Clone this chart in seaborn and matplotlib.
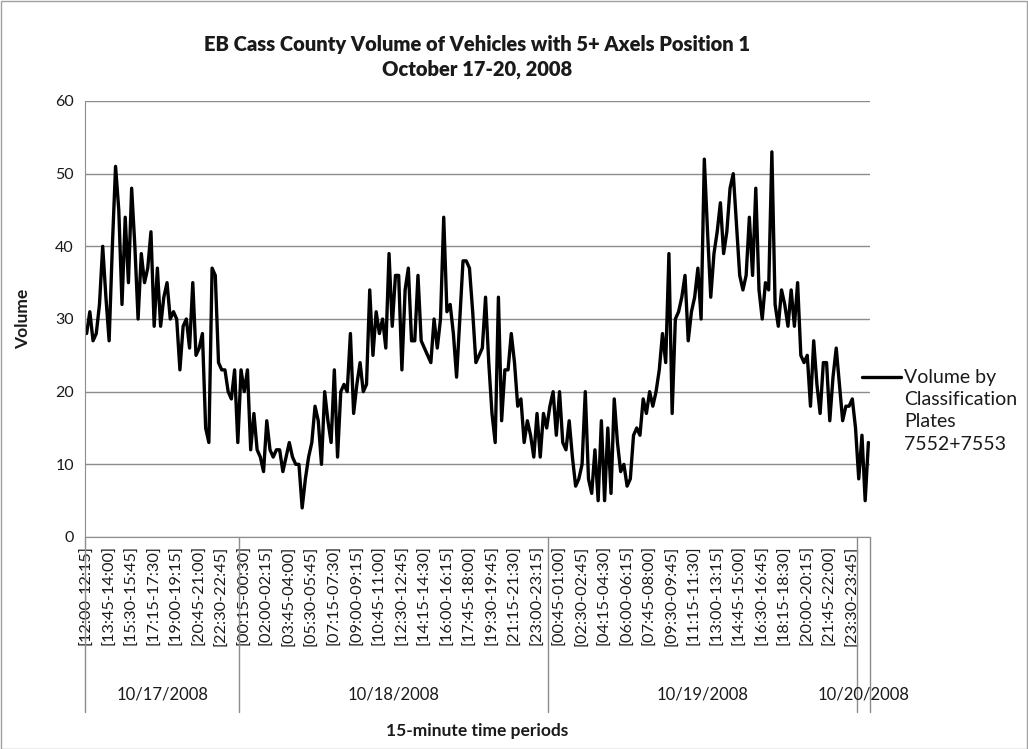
import numpy as np
import pandas as pd
import matplotlib
matplotlib.use("Agg")
import matplotlib.pyplot as plt
from matplotlib.lines import Line2D
from matplotlib.patches import Rectangle
import seaborn as sns

# 15-minute volumes, 10/17 12:00 through 10/20 00:45
vol_1017 = [28, 31, 27, 28, 32, 40, 33, 27, 40, 51,
            45, 32, 44, 35, 48, 40, 30, 39, 35, 37,
            42, 29, 37, 29, 33, 35, 30, 31, 30, 23,
            29, 30, 26, 35, 25, 26, 28, 15, 13, 37,
            36, 24, 23, 23, 20, 19, 23, 13]
vol_1018 = [23, 20, 23, 12, 17, 12, 11, 9, 16, 12,
            11, 12, 12, 9, 11, 13, 11, 10, 10, 4,
            8, 11, 13, 18, 16, 10, 20, 16, 13, 23,
            11, 20, 21, 20, 28, 17, 21, 24, 20, 21,
            34, 25, 31, 28, 30, 26, 39, 29, 36, 36,
            23, 34, 37, 27, 27, 36, 27, 26, 25, 24,
            30, 26, 30, 44, 31, 32, 28, 22, 30, 38,
            38, 37, 31, 24, 25, 26, 33, 24, 17, 13,
            33, 16, 23, 23, 28, 24, 18, 19, 13, 16,
            14, 11, 17, 11, 17, 15]
vol_1019 = [18, 20, 14, 20, 13, 12, 16, 11, 7, 8,
            10, 20, 8, 6, 12, 5, 16, 5, 15, 6,
            19, 13, 9, 10, 7, 8, 14, 15, 14, 19,
            17, 20, 18, 20, 23, 28, 24, 39, 17, 30,
            31, 33, 36, 27, 31, 33, 37, 30, 52, 42,
            33, 39, 42, 46, 39, 42, 48, 50, 43, 36,
            34, 36, 44, 36, 48, 34, 30, 35, 34, 53,
            32, 29, 34, 32, 29, 34, 29, 35, 25, 24,
            25, 18, 27, 21, 17, 24, 24, 16, 22, 26,
            21, 16, 18, 18, 19, 15]
vol_1020 = [8, 14, 5, 13]

dates = ["10/17/2008", "10/18/2008", "10/19/2008", "10/20/2008"]
day_counts = [len(vol_1017), len(vol_1018), len(vol_1019), len(vol_1020)]
volume = vol_1017 + vol_1018 + vol_1019 + vol_1020

starts = pd.date_range("2008-10-17 12:00", periods=len(volume), freq="15min")
periods = [f"[{s:%H:%M}-{s + pd.Timedelta(minutes=15):%H:%M}]" for s in starts]

df = pd.DataFrame({"pos": np.arange(len(volume)), "volume": volume, "period": periods})

sns.set_style("white")
plt.rcParams["font.family"] = ["Lato", "DejaVu Sans"]
txt = "#1a1a1a"

W, H = 1028, 749
fig = plt.figure(figsize=(W / 100, H / 100), dpi=100)
L, R, T, B = 85, 870, 101, 537
ax = fig.add_axes([L / W, 1 - B / H, (R - L) / W, (B - T) / H])

sns.lineplot(data=df, x="pos", y="volume", color="black", linewidth=2.4, ax=ax)

ax.set_xlim(-0.5, len(volume) - 0.5)
ax.set_ylim(0, 60)
ax.set_yticks(range(0, 61, 10))
ax.yaxis.grid(True, color="#8c8c8c", linewidth=1)
ax.tick_params(axis="y", length=4, color="#8c8c8c", labelsize=11.5, labelcolor=txt, pad=4)
for s in ["top", "right"]:
    ax.spines[s].set_visible(False)
for s in ["left", "bottom"]:
    ax.spines[s].set_color("#8c8c8c")

ax.set_xticks(df["pos"][::7])
ax.set_xticklabels(df["period"][::7], rotation=90, fontsize=11.8, color=txt, va="top")
ax.tick_params(axis="x", length=0, pad=6)
ax.set_xlabel("")
ax.set_ylabel("Volume", fontsize=12.5, fontweight="bold", color=txt)
ax.yaxis.set_label_coords(-(L - 31) / (R - L), 0.5)

# day grouping under the category labels
bounds = np.concatenate([[0], np.cumsum(day_counts)]) - 0.5
y_line = -(712 - B) / (B - T)
y_date = -(695 - B) / (B - T)
for b in bounds:
    ax.plot([b, b], [0, y_line], transform=ax.get_xaxis_transform(),
            color="#8c8c8c", lw=1, clip_on=False)
for d, a, b in zip(dates, bounds[:-1], bounds[1:]):
    ax.text((a + b) / 2, y_date, d, transform=ax.get_xaxis_transform(),
            ha="center", va="center", fontsize=12, color=txt)

fig.text((L + R) / 2 / W, 1 - 57 / H,
         "EB Cass County Volume of Vehicles with 5+ Axels Position 1\nOctober 17-20, 2008",
         ha="center", va="center", fontsize=14.5, fontweight="heavy", color=txt, linespacing=1.3)
fig.text((L + R) / 2 / W, 1 - 731 / H, "15-minute time periods",
         ha="center", va="center", fontsize=12.5, fontweight="bold", color=txt)

# legend
fig.add_artist(Line2D([862 / W, 901 / W], [1 - 377 / H, 1 - 377 / H], color="black", lw=2.4))
fig.text(904 / W, 1 - 369 / H, "Volume by\nClassification\nPlates\n7552+7553",
         ha="left", va="top", fontsize=14, color=txt, linespacing=1.37)

fig.add_artist(Rectangle((0.5 / W, 0.5 / H), 1 - 1.5 / W, 1 - 1.5 / H, transform=fig.transFigure,
                         fill=False, edgecolor="#a0a0a0", lw=1))

fig.savefig("out.png", dpi=100)
